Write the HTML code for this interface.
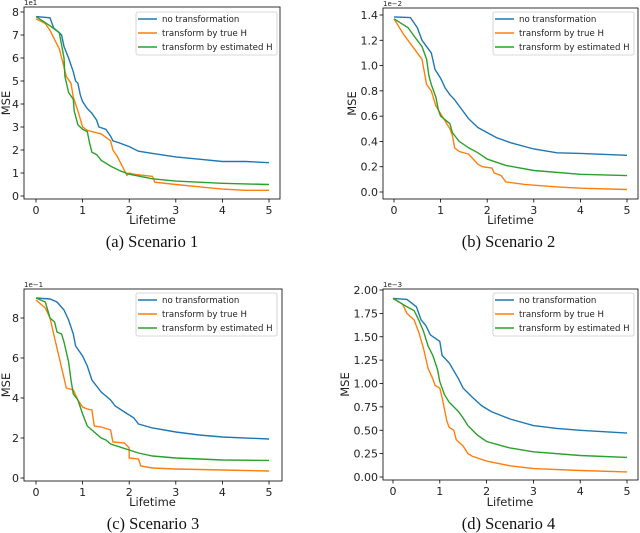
<!DOCTYPE html>
<html><head><meta charset="utf-8"><style>
body{margin:0;background:#fff;width:640px;height:533px;overflow:hidden}
svg{display:block}
text{font-family:"DejaVu Sans","Liberation Sans",sans-serif;fill:#222}
.cap{font-family:"Liberation Serif",serif;font-size:16.5px;fill:#111}
</style></head><body>
<svg id="fig" width="640" height="533" xmlns="http://www.w3.org/2000/svg"></svg>
<script>
const seriesNames = ["no transformation","transform by true H","transform by estimated H"];
const colors = ["#1f77b4","#ff7f0e","#2ca02c"];
const xTicks = [0,1,2,3,4,5];
const yTicksA = [0,1,2,3,4,5,6,7,8];
const yTicksB = [0.0,0.2,0.4,0.6,0.8,1.0,1.2,1.4];
const yTicksC = [0,2,4,6,8];
const yTicksD = [0.00,0.25,0.50,0.75,1.00,1.25,1.50,1.75,2.00];
const blueA = [[0,7.8],[0.3,7.75],[0.38,7.3],[0.5,7.1],[0.55,7.0],[0.6,6.5],[0.7,6.0],[0.8,5.4],[0.85,5.0],[0.9,4.9],[0.95,4.4],[1.0,4.1],[1.1,3.8],[1.2,3.6],[1.3,3.3],[1.35,3.0],[1.5,2.9],[1.6,2.6],[1.65,2.4],[1.8,2.3],[2.0,2.15],[2.2,1.95],[2.5,1.85],[3.0,1.7],[3.5,1.6],[4.0,1.5],[4.5,1.5],[5,1.45]];
const orangeA = [[0,7.7],[0.2,7.5],[0.3,7.2],[0.4,6.8],[0.5,6.4],[0.6,5.6],[0.65,5.2],[0.75,4.9],[0.8,4.3],[0.9,3.7],[1.0,3.0],[1.1,2.85],[1.3,2.75],[1.4,2.7],[1.5,2.55],[1.6,2.4],[1.65,2.0],[1.75,1.7],[1.85,1.3],[1.95,0.9],[2.0,1.0],[2.1,0.95],[2.5,0.85],[2.55,0.6],[3.0,0.5],[3.5,0.4],[4.0,0.3],[4.5,0.25],[5,0.25]];
const greenA = [[0,7.8],[0.3,7.4],[0.5,7.1],[0.6,6.0],[0.62,5.2],[0.7,4.5],[0.8,4.2],[0.82,3.7],[0.9,3.1],[1.0,2.9],[1.1,2.8],[1.15,2.3],[1.2,1.9],[1.3,1.8],[1.4,1.55],[1.6,1.3],[1.8,1.1],[2.0,0.95],[2.5,0.75],[3.0,0.65],[4.0,0.55],[5,0.5]];
const blueB = [[0,1.385],[0.35,1.38],[0.5,1.3],[0.6,1.2],[0.7,1.15],[0.8,1.1],[0.88,0.97],[1.0,0.9],[1.1,0.82],[1.2,0.77],[1.3,0.73],[1.4,0.68],[1.6,0.58],[1.8,0.51],[2.0,0.47],[2.2,0.43],[2.5,0.39],[3.0,0.34],[3.5,0.31],[4,0.305],[5,0.29]];
const orangeB = [[0,1.37],[0.2,1.25],[0.4,1.15],[0.5,1.1],[0.6,1.05],[0.7,0.85],[0.8,0.8],[0.9,0.68],[1.0,0.62],[1.2,0.5],[1.25,0.45],[1.3,0.35],[1.4,0.32],[1.6,0.3],[1.8,0.22],[1.9,0.2],[2.1,0.19],[2.15,0.15],[2.3,0.13],[2.4,0.08],[2.8,0.06],[3.5,0.04],[4,0.03],[5,0.02]];
const greenB = [[0,1.37],[0.3,1.3],[0.4,1.25],[0.5,1.2],[0.6,1.15],[0.7,1.05],[0.75,0.92],[0.8,0.85],[0.9,0.75],[0.95,0.65],[1.0,0.6],[1.2,0.54],[1.25,0.47],[1.4,0.4],[1.6,0.35],[1.8,0.31],[2.0,0.26],[2.4,0.21],[3.0,0.17],[4,0.14],[5,0.13]];
const blueC = [[0,9.0],[0.3,8.95],[0.45,8.8],[0.6,8.4],[0.7,7.9],[0.8,7.2],[0.85,6.6],[1.0,6.1],[1.1,5.6],[1.2,4.9],[1.4,4.3],[1.6,3.9],[1.7,3.6],[1.9,3.3],[2.1,3.0],[2.2,2.7],[2.5,2.5],[3.0,2.3],[3.5,2.15],[4,2.05],[5,1.95]];
const orangeC = [[0,8.9],[0.2,8.5],[0.3,8.0],[0.4,7.0],[0.5,6.0],[0.6,5.0],[0.65,4.5],[0.8,4.4],[0.9,3.9],[1.0,3.55],[1.1,3.45],[1.2,3.4],[1.25,2.6],[1.4,2.55],[1.6,2.4],[1.65,1.8],[1.9,1.75],[2.0,1.5],[2.0,1.0],[2.2,0.95],[2.25,0.6],[2.5,0.5],[3,0.45],[4,0.4],[5,0.35]];
const greenC = [[0,9.0],[0.2,8.8],[0.3,8.0],[0.4,7.8],[0.45,7.3],[0.55,7.2],[0.6,6.8],[0.7,5.8],[0.75,4.9],[0.8,4.2],[0.9,3.9],[1.0,3.2],[1.1,2.6],[1.2,2.4],[1.4,2.0],[1.5,1.9],[1.6,1.7],[2.0,1.4],[2.2,1.25],[2.5,1.1],[3,1.0],[4,0.9],[5,0.88]];
const blueD = [[0,1.91],[0.3,1.9],[0.5,1.82],[0.6,1.68],[0.7,1.62],[0.8,1.52],[1.0,1.45],[1.05,1.3],[1.2,1.22],[1.4,1.05],[1.5,0.95],[1.7,0.85],[1.9,0.76],[2.1,0.7],[2.5,0.62],[3.0,0.55],[3.5,0.52],[4,0.5],[5,0.47]];
const orangeD = [[0,1.91],[0.2,1.85],[0.3,1.75],[0.45,1.68],[0.55,1.55],[0.65,1.38],[0.75,1.16],[0.85,1.05],[0.9,0.98],[1.0,0.95],[1.05,0.85],[1.15,0.6],[1.2,0.53],[1.3,0.5],[1.35,0.4],[1.5,0.33],[1.6,0.25],[1.7,0.22],[2.0,0.17],[2.5,0.12],[3.0,0.09],[4.0,0.07],[5,0.055]];
const greenD = [[0,1.91],[0.3,1.82],[0.45,1.78],[0.55,1.68],[0.65,1.56],[0.75,1.4],[0.85,1.3],[0.95,1.15],[1.0,1.02],[1.1,0.88],[1.2,0.8],[1.4,0.7],[1.5,0.63],[1.6,0.55],[1.8,0.45],[2.0,0.38],[2.5,0.31],[3,0.27],[4,0.23],[5,0.21]];

const NS="http://www.w3.org/2000/svg";
const fig=document.getElementById('fig');
function mk(tag,attrs,parent,txt){const e=document.createElementNS(NS,tag);for(const k in attrs)e.setAttribute(k,attrs[k]);if(txt!==undefined)e.textContent=txt;parent.appendChild(e);return e;}

const panels=[
 {id:"a",series:[blueA,orangeA,greenA],ticks:yTicksA,dec:0,off:"1e1",cap:"(a) Scenario 1",L:24,R:280,T:7,B:199,x0:36,x5:269,yv1:8,yp1:12,yp0:196,leg:[136,12],ylab:6,xl:220,capy:247},
 {id:"b",series:[blueB,orangeB,greenB],ticks:yTicksB,dec:1,off:"1e\u22122",cap:"(b) Scenario 2",L:383,R:638,T:8,B:199,x0:394,x5:627,yv1:1.4,yp1:15,yp0:192,leg:[493,12],ylab:352,xl:220,capy:247},
 {id:"c",series:[blueC,orangeC,greenC],ticks:yTicksC,dec:0,off:"1e\u22121",cap:"(c) Scenario 3",L:24,R:282,T:289,B:481,x0:36,x5:269,yv1:8,yp1:318,yp0:478,leg:[136,293],ylab:6,xl:502,capy:529},
 {id:"d",series:[blueD,orangeD,greenD],ticks:yTicksD,dec:2,off:"1e\u22123",cap:"(d) Scenario 4",L:383,R:638,T:289,B:480,x0:393,x5:627,yv1:2,yp1:290,yp0:477,leg:[493,293],ylab:345,xl:502,capy:529}
];
panels.forEach(p=>{
  const g=mk('g',{},fig);
  
  
  const X=t=>p.x0+(p.x5-p.x0)*t/5;
  const Y=v=>p.yp0+(p.yp1-p.yp0)*v/p.yv1;
  p.series.forEach((s,i)=>{
    const d=s.map((pt,j)=>(j?'L':'M')+X(pt[0]).toFixed(1)+','+Y(pt[1]).toFixed(1)).join('');
    const path=mk('path',{d:d,fill:'none',stroke:colors[i],'stroke-width':1.4},g);
    
    
  });
  const fr=mk('rect',{x:p.L,y:p.T,width:p.R-p.L,height:p.B-p.T,fill:'none',stroke:'#000','stroke-width':0.8},g);
  
  
  xTicks.forEach(t=>{
    mk('line',{x1:X(t),x2:X(t),y1:p.B,y2:p.B+3.5,stroke:'#000','stroke-width':0.8},g);
    const tx=mk('text',{x:X(t),y:p.B+15,'font-size':11,'text-anchor':'middle'},g,String(t));
    
    
  });
  p.ticks.forEach(v=>{
    mk('line',{x1:p.L-3.5,x2:p.L,y1:Y(v),y2:Y(v),stroke:'#000','stroke-width':0.8},g);
    const tx=mk('text',{x:p.L-5,y:Y(v)+4,'font-size':11,'text-anchor':'end'},g,v.toFixed(p.dec));
    
    
  });
  const off=mk('text',{x:p.L,y:p.T-2,'font-size':7},g,p.off);
  
  
  const xl=mk('text',{x:(p.x0+p.x5)/2,y:p.xl+4,'font-size':11.5,'text-anchor':'middle'},g,'Lifetime');
  
  
  const yc=(p.T+p.B)/2;
  const yl=mk('text',{x:p.ylab+4,y:yc,'font-size':11.5,'text-anchor':'middle',transform:`rotate(-90 ${p.ylab+4} ${yc})`},g,'MSE');
  
  
  const lg=mk('g',{},g);
  
  
  const [lx,ly]=p.leg;
  mk('rect',{x:lx,y:ly,width:141,height:43,fill:'#fff',stroke:'#ccc','stroke-width':0.8,rx:2},lg);
  seriesNames.forEach((n,i)=>{
    const yy=ly+7+i*14;
    mk('line',{x1:lx+2,x2:lx+21,y1:yy,y2:yy,stroke:colors[i],'stroke-width':1.4},lg);
    const t=mk('text',{x:lx+26,y:yy+3,'font-size':8.6},lg,n);
    
    
  });
  const cap=mk('text',{x:(p.L+p.R)/2+(p.id==='b'||p.id==='d'?-2:0),y:p.capy,'text-anchor':'middle','class':'cap'},g,p.cap);
  
  
});
</script>
</body></html>
